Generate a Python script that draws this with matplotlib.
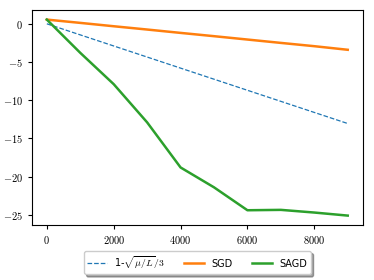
import matplotlib
matplotlib.use("Agg")
import matplotlib.pyplot as plt
from matplotlib.ticker import FuncFormatter

plt.rcParams["mathtext.fontset"] = "cm"

iterations = [0, 1000, 2000, 3000, 4000, 5000, 6000, 7000, 8000, 9000]
bound = [0.0, -1.45, -2.9, -4.35, -5.8, -7.25, -8.7, -10.15, -11.6, -13.05]
sgd = [0.55, 0.12, -0.32, -0.75, -1.19, -1.62, -2.06, -2.5, -2.93, -3.4]
sagd = [0.55, -3.8, -7.9, -12.9, -18.8, -21.4, -24.4, -24.35, -24.7, -25.1]

fig, ax = plt.subplots(figsize=(3.74, 2.8), dpi=100)
ax.plot(iterations, bound, "--", color="tab:blue", lw=0.9, label=r"1-$\sqrt{\mu/L}/3$")
ax.plot(iterations, sgd, color="tab:orange", lw=1.8, label="SGD")
ax.plot(iterations, sagd, color="tab:green", lw=1.8, label="SAGD")

fmt = FuncFormatter(lambda v, pos: r"$%g$" % v)
ax.xaxis.set_major_formatter(fmt)
ax.yaxis.set_major_formatter(fmt)
ax.tick_params(labelsize=7.5, length=3)

ax.legend(loc="upper center", bbox_to_anchor=(0.5, -0.095), ncol=3,
          fontsize=7, shadow=True, fancybox=True, borderpad=0.35)

fig.subplots_adjust(left=0.085, right=0.97, top=0.965, bottom=0.195)
fig.savefig("out.png", dpi=100)
